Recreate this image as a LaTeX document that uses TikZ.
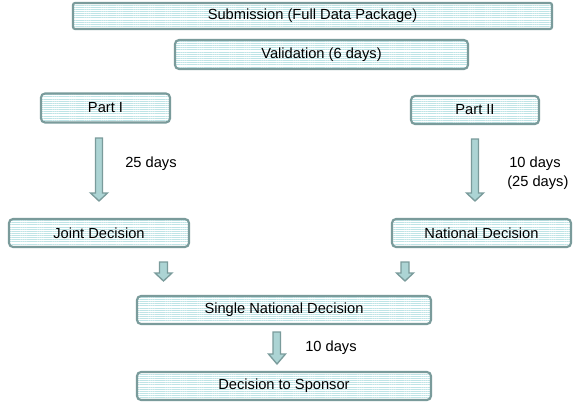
\documentclass[tikz,border=0pt]{standalone}
\usepackage{fontspec}
\setmainfont{Liberation Sans}
\usetikzlibrary{patterns.meta}

\definecolor{boxline}{RGB}{122,155,155}
\definecolor{boxhatch}{RGB}{190,228,230}
\definecolor{arrowfill}{RGB}{172,212,212}

\begin{document}
\begin{tikzpicture}[x=0.75pt,y=0.75pt,yscale=-1,xscale=1,
  stepbox/.style={draw=boxline, line width=1.6pt, rounded corners=3pt,
    preaction={fill=white},
    pattern={Lines[angle=0,distance=1.6pt,line width=0.55pt]}, pattern color=boxhatch,
    inner sep=0pt, minimum height=28*0.75pt, font=\fontsize{11}{13}\selectfont},
  daytext/.style={inner sep=0.75pt, anchor=west, font=\fontsize{11}{13}\selectfont},
  downarrow/.style={draw=boxline, line width=1pt, fill=arrowfill, line join=miter}]
\useasboundingbox (0,0) rectangle (579,404);

% Boxes
\node [stepbox, rounded corners=1.5pt, minimum width=479*0.75pt, minimum height=26*0.75pt] (submission) at (312.5,16) {Submission (Full Data Package)};
\node [stepbox, minimum width=293*0.75pt, minimum height=29*0.75pt] (validation) at (321.5,54.5) {Validation (6 days)};
\node [stepbox, minimum width=129*0.75pt, minimum height=29*0.75pt] (partone) at (105.5,108) {Part I};
\node [stepbox, minimum width=128*0.75pt] (parttwo) at (475,110) {Part II};
\node [stepbox, minimum width=180*0.75pt] (joint) at (99,233) {Joint Decision};
\node [stepbox, minimum width=179*0.75pt] (national) at (481.5,233) {National Decision};
\node [stepbox, minimum width=294*0.75pt] (single) at (284,310) {Single National Decision};
\node [stepbox, minimum width=294*0.75pt] (sponsor) at (284,386) {Decision to Sponsor};

%Down Arrow (Part I)
\draw [downarrow] (95.5,138) -- (102.5,138) -- (102.5,193) -- (107.5,193) -- (99,201) -- (90.5,193) -- (95.5,193) -- cycle ;
%Down Arrow (Part II)
\draw [downarrow] (471.5,139) -- (478.5,139) -- (478.5,193) -- (483.5,193) -- (475,201) -- (466.5,193) -- (471.5,193) -- cycle ;
%Down Arrow (Joint Decision)
\draw [downarrow] (159.5,262) -- (167.5,262) -- (167.5,273) -- (172,273) -- (163.5,281) -- (155,273) -- (159.5,273) -- cycle ;
%Down Arrow (National Decision)
\draw [downarrow] (401,262) -- (409,262) -- (409,273) -- (413.5,273) -- (405,281) -- (396.5,273) -- (401,273) -- cycle ;
%Down Arrow (Single National Decision)
\draw [downarrow] (273,332) -- (280.5,332) -- (280.5,354) -- (285.5,354) -- (277,364) -- (268.5,354) -- (273,354) -- cycle ;

% Text Node
\node [daytext] (daysone) at (124,164) {25 days};
% Text Node
\node [daytext] (daystwo) at (508,164) {10 days};
% Text Node
\node [daytext] (daysthree) at (506,183) {(25 days)};
% Text Node
\node [daytext] (daysfour) at (304,348) {10 days};

\end{tikzpicture}
\end{document}
